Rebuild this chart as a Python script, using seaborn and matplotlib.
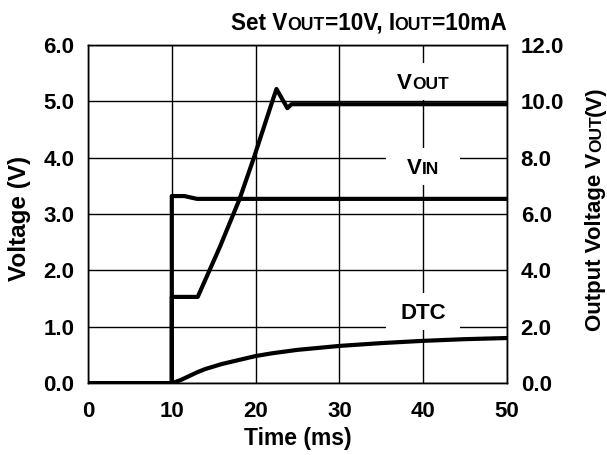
import numpy as np
import pandas as pd
import seaborn as sns
import matplotlib.pyplot as plt
from matplotlib.patches import Rectangle
from matplotlib.transforms import offset_copy

t_vin = [0, 10, 10, 11.5, 13, 20, 30, 40, 50]
v_in = [0, 0, 3.32, 3.32, 3.27, 3.27, 3.27, 3.27, 3.27]

t_vout = [0, 10, 10, 13.1, 15.75, 18.1, 19.8, 22.0, 22.5, 23.8, 24.3, 50]
v_out = [0, 0, 1.53, 1.53, 2.42, 3.27, 4.0, 5.0, 5.22, 4.88, 4.95, 4.95]

t_dtc = [0, 10, 11, 12, 13, 14, 16, 18, 20, 22, 25, 30, 35, 40, 45, 50]
v_dtc = [0, 0, 0.05, 0.12, 0.19, 0.25, 0.34, 0.41, 0.48, 0.53, 0.59, 0.66, 0.71, 0.75, 0.78, 0.80]

x_ticks = [0, 10, 20, 30, 40, 50]
y_ticks = [0, 1, 2, 3, 4, 5, 6]
y2_ticks = [0, 2, 4, 6, 8, 10, 12]

sns.set_style('white')
plt.rcParams['font.family'] = ['Liberation Sans', 'DejaVu Sans']
plt.rcParams['font.weight'] = 'bold'
for k in ['text.color', 'axes.labelcolor', 'xtick.color', 'ytick.color']:
    plt.rcParams[k] = 'black'
FS = 16

fig = plt.figure(figsize=(6.07, 4.55), dpi=100)
ax = fig.add_axes([0.145, 0.158, 0.69, 0.743])

df = pd.concat([
    pd.DataFrame({'t': t_vin, 'v': v_in, 's': 'VIN'}),
    pd.DataFrame({'t': t_vout, 'v': v_out, 's': 'VOUT'}),
    pd.DataFrame({'t': t_dtc, 'v': v_dtc, 's': 'DTC'}),
])
for name, g in df.groupby('s', sort=False):
    sns.lineplot(data=g, x='t', y='v', ax=ax, color='black', lw=3,
                 estimator=None, sort=False, zorder=3)

ax.set_xlim(0, 50)
ax.set_ylim(0, 6)
ax.set_xticks(x_ticks)
ax.set_yticks(y_ticks)
ax.set_yticklabels([f'{v:.1f}' for v in y_ticks])
ax.set_xlabel('')
ax.set_ylabel('')
ax.grid(True, color='black', lw=1)
ax.set_axisbelow(True)
ax.tick_params(length=0, labelsize=FS, pad=10)
ax.tick_params(axis='x', pad=13)
for sp in ax.spines.values():
    sp.set_color('black')
    sp.set_linewidth(1)

ax2 = ax.twinx()
ax2.set_ylim(0, 12)
ax2.set_yticks(y2_ticks)
ax2.set_yticklabels([f'{v:.1f}' for v in y2_ticks])
ax2.tick_params(length=0, labelsize=FS, pad=10)
for sp in ax2.spines.values():
    sp.set_color('black')
    sp.set_linewidth(1)

renderer = fig.canvas.get_renderer()


def caps_text(x, y, parts, transform, ha='left', rotation=0, size=FS):
    # текст с капителью: (строка, мелкий?)
    items = []
    for s, small in parts:
        t = fig.text(x, y, s, transform=transform, fontsize=size * 0.78 if small else size,
                     rotation=rotation, rotation_mode='anchor', ha='left', va='baseline',
                     zorder=5)
        ext = t.get_window_extent(renderer)
        items.append((t, ext.height if rotation else ext.width))
    total = sum(w for _, w in items)
    pos = {'left': 0, 'center': -total / 2, 'right': -total}[ha]
    for t, w in items:
        if rotation:
            t.set_transform(offset_copy(transform, fig=fig, x=0, y=pos, units='dots'))
        else:
            t.set_transform(offset_copy(transform, fig=fig, x=pos, y=0, units='dots'))
        pos += w


# подписи кривых на белом фоне
for yc, parts in [(5.36, [('V', False), ('OUT', True)]),
                  (3.85, [('V', False), ('IN', True)]),
                  (1.27, [('DTC', False)])]:
    ax.add_patch(Rectangle((35.6, yc - 0.33), 8.8, 0.66, fc='white', ec='none', zorder=2))
    caps_text(40, yc - 0.14, parts, ax.transData, ha='center')

caps_text(0.835, 0.935, [('Set V', False), ('OUT', True), ('=10V, I', False),
                         ('OUT', True), ('=10mA', False)], fig.transFigure, ha='right',
          size=16.3)
caps_text(0.043, 0.519, [('Voltage (V)', False)], fig.transFigure, ha='center',
          rotation=90, size=17.5)
caps_text(0.99, 0.542, [('Output Voltage V', False), ('OUT', True), ('(V)', False)],
          fig.transFigure, ha='center', rotation=90, size=16)
fig.text(0.49, 0.022, 'Time (ms)', ha='center', va='baseline', fontsize=16.5)

fig.savefig('out.png', dpi=100)
